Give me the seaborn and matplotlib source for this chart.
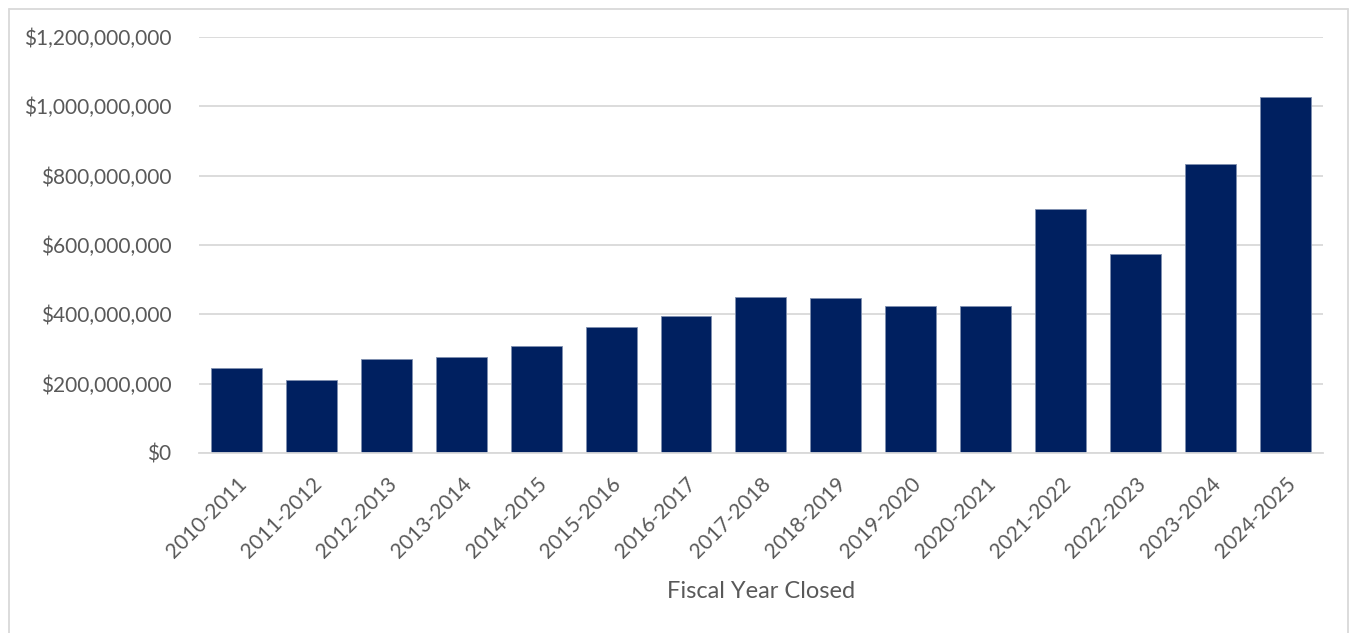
import matplotlib
matplotlib.use("Agg")
import matplotlib.pyplot as plt
from matplotlib.lines import Line2D
from matplotlib.ticker import FuncFormatter, MultipleLocator
import seaborn as sns
import pandas as pd

fiscal_years = [
    "2010-2011", "2011-2012", "2012-2013", "2013-2014", "2014-2015",
    "2015-2016", "2016-2017", "2017-2018", "2018-2019", "2019-2020",
    "2020-2021", "2021-2022", "2022-2023", "2023-2024", "2024-2025",
]
amounts = [
    245e6, 210e6, 271e6, 277e6, 308e6,
    363e6, 394e6, 449e6, 446e6, 423e6,
    423e6, 703e6, 574e6, 835e6, 1028e6,
]

df = pd.DataFrame({"year": fiscal_years, "amount": amounts})

sns.set_theme(style="white")
plt.rcParams["font.family"] = ["Lato", "DejaVu Sans"]

text_color = "#595959"
grid_color = "#D9D9D9"
bar_color = "#002060"

fig = plt.figure(figsize=(13.54, 6.33), dpi=100)
ax = fig.add_axes([0.147, 0.2844, 0.830, 0.6571])

sns.barplot(data=df, x="year", y="amount", color=bar_color, width=0.68,
            saturation=1, edgecolor="#7f8fb0", linewidth=0.6, ax=ax)

ax.set_ylim(0, 1.2e9)
ax.set_xlim(-0.5, len(fiscal_years) - 0.5)
ax.yaxis.set_major_locator(MultipleLocator(2e8))
ax.yaxis.set_major_formatter(FuncFormatter(lambda v, _: f"${v:,.0f}"))
ax.yaxis.grid(True, color=grid_color, linewidth=1.3)
ax.set_axisbelow(True)

for side in ["top", "right", "left"]:
    ax.spines[side].set_visible(False)
ax.spines["bottom"].set_color(grid_color)
ax.spines["bottom"].set_linewidth(1.3)

ax.tick_params(axis="y", length=0, pad=20, labelsize=15, labelcolor=text_color)
ax.tick_params(axis="x", length=0, pad=15, labelsize=15, labelcolor=text_color)
plt.setp(ax.get_xticklabels(), rotation=45, ha="right", rotation_mode="anchor")

ax.set_ylabel("")
ax.set_xlabel("Fiscal Year Closed", fontsize=17, color=text_color, labelpad=14)

# light border around the chart area (left, top, right)
W, H = 1354, 633
x0, x1, y0 = 8.5 / W, 1347.5 / W, 1 - 8.5 / H
for xs, ys in [([x0, x0], [0, y0]), ([x0, x1], [y0, y0]), ([x1, x1], [y0, 0])]:
    fig.add_artist(Line2D(xs, ys, transform=fig.transFigure,
                          color=grid_color, linewidth=1.3))

fig.savefig("out.png", dpi=100, facecolor="white")
